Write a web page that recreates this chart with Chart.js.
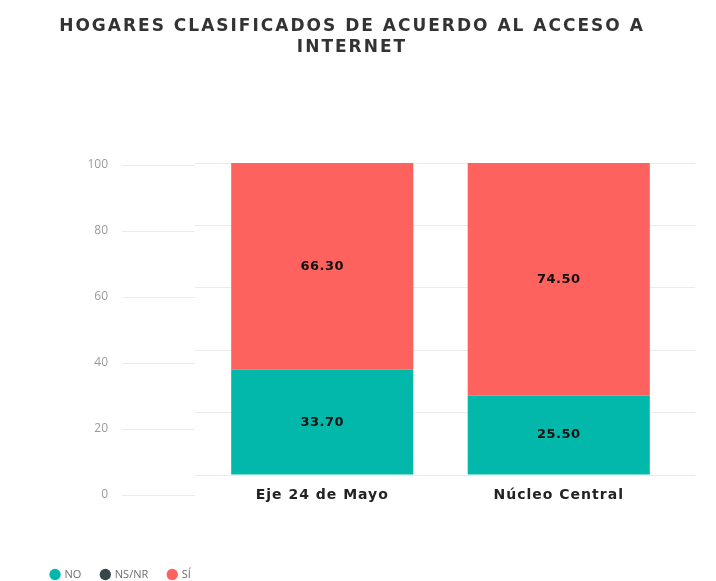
<!DOCTYPE html>
<html>
<head>
<meta charset="utf-8">
<script src="https://cdn.jsdelivr.net/npm/chart.js@4/dist/chart.umd.min.js"></script>
<style>
  html, body { margin: 0; padding: 0; background: #ffffff; overflow: hidden; }
  #wrap { position: relative; width: 716px; height: 590px; }
  #wrap canvas { position: absolute; left: 0; top: 0; }
  #axisCanvas { pointer-events: none; }
</style>
</head>
<body>
<div id="wrap">
  <canvas id="mainCanvas" width="716" height="590"></canvas>
  <canvas id="axisCanvas" width="716" height="581"></canvas>
</div>
<script>
// ---- data ----
const categories = ['Eje 24 de Mayo', 'Núcleo Central'];
const seriesNames = ['NO', 'NS/NR', 'SÍ'];
const noValues = [33.70, 25.50];
const nsnrValues = [0, 0];
const siValues = [66.30, 74.50];
const yTickMin = 0;
const yTickMax = 100;
const yTickStep = 20;
const titleLines = ['HOGARES CLASIFICADOS DE ACUERDO AL ACCESO A', 'INTERNET'];

const colors = ['#01B8AA', '#374649', '#FD625E'];
const gridColor = '#ebebeb';

// ---- main chart: bars, plot gridlines, category labels, legend ----
const valueLabels = {
  id: 'valueLabels',
  beforeDraw(chart) { chart.ctx.letterSpacing = '0px'; },
  afterDatasetsDraw(chart) {
    const ctx = chart.ctx;
    ctx.save();
    ctx.letterSpacing = '0.5px';
    ctx.font = 'bold 13px "DejaVu Sans"';
    ctx.fillStyle = '#111111';
    ctx.textAlign = 'center';
    ctx.textBaseline = 'middle';
    chart.data.datasets.forEach((ds, i) => {
      const meta = chart.getDatasetMeta(i);
      meta.data.forEach((bar, j) => {
        const v = ds.data[j];
        if (!v) return;
        const p = bar.getProps(['x', 'y', 'base'], true);
        ctx.fillText(v.toFixed(2), p.x, (p.y + p.base) / 2);
      });
    });
    ctx.restore();
    ctx.letterSpacing = '1px';
  },
  afterDraw(chart) { chart.ctx.letterSpacing = '0px'; }
};

new Chart(document.getElementById('mainCanvas'), {
  type: 'bar',
  data: {
    labels: categories,
    datasets: [
      { label: seriesNames[0], data: noValues, backgroundColor: colors[0] },
      { label: seriesNames[1], data: nsnrValues, backgroundColor: colors[1] },
      { label: seriesNames[2], data: siValues, backgroundColor: colors[2] }
    ]
  },
  options: {
    responsive: false,
    animation: false,
    events: [],
    layout: { padding: { top: 163, left: 31, right: 21, bottom: 0 } },
    datasets: { bar: { categoryPercentage: 1, barPercentage: 0.77, borderWidth: 0 } },
    plugins: {
      title: { display: false },
      tooltip: { enabled: false },
      legend: {
        position: 'bottom',
        align: 'start',
        labels: {
          usePointStyle: true,
          pointStyle: 'circle',
          boxWidth: 8,
          boxHeight: 8,
          padding: 20,
          color: '#6e6e6e',
          font: { family: '"Open Sans"', size: 11 }
        }
      }
    },
    scales: {
      x: {
        stacked: true,
        afterFit(s) { s.height = 74; },
        grid: { display: false, drawTicks: false },
        border: { display: false },
        ticks: {
          z: 1,
          padding: 12,
          maxRotation: 0,
          autoSkip: false,
          color: '#222222',
          font: { family: '"DejaVu Sans"', size: 14, weight: 'bold' }
        }
      },
      y: {
        stacked: true,
        position: 'left',
        min: yTickMin,
        max: yTickMax,
        afterFit(s) { s.width = 173; },
        grid: { color: gridColor, tickLength: 9, drawTicks: true },
        border: { display: false },
        ticks: { display: false, stepSize: yTickStep }
      },
      y2: {
        position: 'right',
        min: yTickMin,
        max: yTickMax,
        afterFit(s) { s.width = 18; },
        grid: { color: gridColor, tickLength: 18, drawTicks: true, drawOnChartArea: false },
        border: { display: false },
        ticks: { display: false, stepSize: yTickStep }
      }
    }
  },
  plugins: [valueLabels]
});

// ---- overlay: title and left value axis ----
const titleSpacing = {
  id: 'titleSpacing',
  beforeDraw(chart) { chart.ctx.letterSpacing = '2px'; },
  beforeDatasetsDraw(chart) { chart.ctx.letterSpacing = '0px'; },
  afterDraw(chart) { chart.ctx.letterSpacing = '0px'; }
};

new Chart(document.getElementById('axisCanvas'), {
  type: 'bar',
  data: { labels: [], datasets: [] },
  options: {
    responsive: false,
    animation: false,
    events: [],
    layout: { padding: { top: 0, left: 0, right: 12, bottom: 86 } },
    plugins: {
      legend: { display: false },
      tooltip: { enabled: false },
      title: {
        display: true,
        text: titleLines,
        color: '#333333',
        font: { family: '"DejaVu Sans"', size: 17, weight: 'bold', lineHeight: 21 / 17 },
        padding: { top: 16, bottom: 107 }
      }
    },
    scales: {
      x: { display: false },
      y: {
        position: 'left',
        min: yTickMin,
        max: yTickMax,
        afterFit(s) { s.width = 195; },
        grid: { color: gridColor, tickLength: 73, drawTicks: true, drawOnChartArea: false },
        border: { display: false },
        ticks: {
          z: 1,
          stepSize: yTickStep,
          padding: 14,
          color: '#9a9a9a',
          font: { family: '"Open Sans"', size: 12 }
        }
      }
    }
  },
  plugins: [titleSpacing]
});
</script>
</body>
</html>
